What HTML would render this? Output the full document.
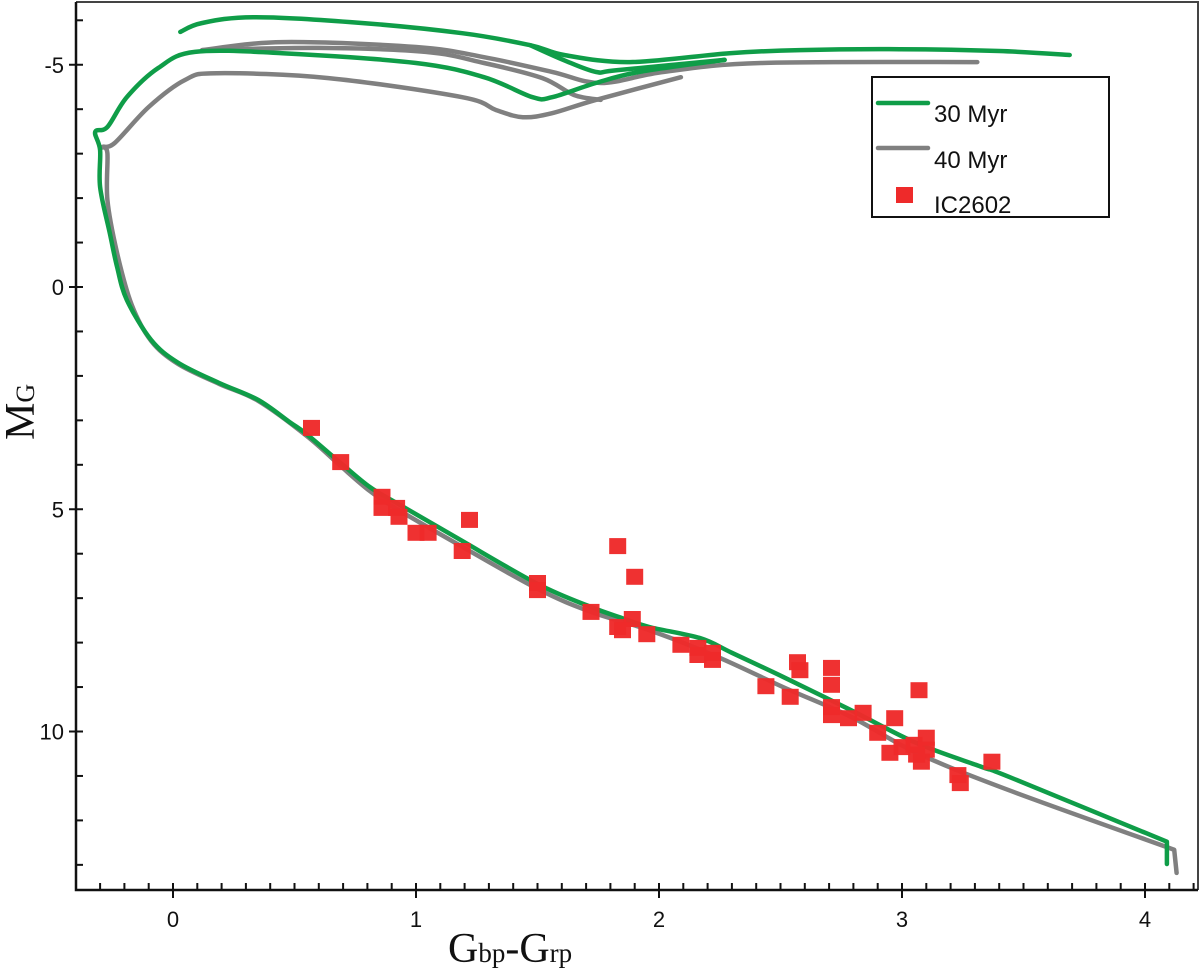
<!DOCTYPE html>
<html><head><meta charset="utf-8"><style>
body{margin:0;background:#fff;}
svg{display:block;}
</style></head><body>
<svg id="chart" width="1200" height="973" viewBox="0 0 1200 973">
<rect x="0" y="0" width="1200" height="973" fill="#fff"/>
<g id="plot"></g>
<g id="axes"></g>
<g>
<rect x="872" y="77" width="237" height="140" fill="#fff" stroke="#111" stroke-width="2"/>
<line x1="878" y1="103" x2="928" y2="103" stroke="#0f9d48" stroke-width="4.5" stroke-linecap="round"/>
<text x="934" y="122" font-family="Liberation Sans, sans-serif" font-size="24" fill="#111">30 Myr</text>
<line x1="878" y1="148" x2="928" y2="148" stroke="#808080" stroke-width="4.5" stroke-linecap="round"/>
<text x="934" y="168" font-family="Liberation Sans, sans-serif" font-size="24" fill="#111">40 Myr</text>
<rect x="896" y="187" width="17" height="16" fill="#ee2a2a"/>
<text x="934" y="213" font-family="Liberation Sans, sans-serif" font-size="24" fill="#111">IC2602</text>
</g>
<text transform="translate(34,440) rotate(-90)" font-family="Liberation Serif, serif" font-size="42" fill="#111">M<tspan font-size="26">G</tspan></text>
<text x="448" y="962" font-family="Liberation Serif, serif" font-size="42" fill="#111">G<tspan font-size="27">bp</tspan>-G<tspan font-size="27">rp</tspan></text>
</svg>
<script>
// Data (colour Gbp-Grp, absolute magnitude MG)
const xTicks = [0, 1, 2, 3, 4];
const yTicks = [-5, 0, 5, 10];
const starColor = [0.57,0.69,0.86,0.86,0.92,0.93,1.00,1.05,1.22,1.19,1.83,1.90,1.50,1.50,1.72,1.83,1.89,1.95,1.85,2.09,2.16,2.16,2.22,2.22,2.44,2.54,2.57,2.58,2.71,2.71,2.71,2.71,2.78,2.84,2.90,2.97,3.07,2.95,3.00,3.05,3.10,3.10,3.08,3.06,3.23,3.24,3.37];
const starMag = [3.17,3.94,4.72,4.97,4.97,5.17,5.53,5.53,5.24,5.94,5.83,6.52,6.66,6.82,7.31,7.65,7.47,7.81,7.72,8.05,8.12,8.28,8.39,8.23,8.98,9.22,8.44,8.62,8.57,8.95,9.45,9.63,9.70,9.58,10.03,9.70,9.07,10.48,10.35,10.30,10.14,10.41,10.68,10.52,10.98,11.16,10.68];
const green30MainX = [4.09,4.09,3.44,3.33,3.06,2.79,2.51,2.30,2.17,1.96,1.85,1.72,1.50,1.17,0.92,0.81,0.69,0.55,0.48,0.35,0.19,0.02,-0.09,-0.19,-0.23,-0.26,-0.30,-0.30,-0.32,-0.27,-0.19,-0.06,0.09,0.45,1.00,1.28,1.48,1.56,1.74,1.92,2.27];
const green30MainY = [12.98,12.48,11.02,10.80,10.26,9.52,8.77,8.23,7.90,7.65,7.45,7.20,6.68,5.65,4.86,4.50,3.96,3.31,3.04,2.54,2.16,1.70,1.19,0.29,-0.45,-1.21,-2.25,-3.08,-3.49,-3.60,-4.27,-4.93,-5.29,-5.26,-5.04,-4.72,-4.27,-4.27,-4.59,-4.84,-5.11];
const green30UpperX = [0.03,0.12,0.33,0.73,1.19,1.47,1.61,1.88,2.29,2.58,2.99,3.40,3.69];
const green30UpperY = [-5.74,-5.94,-6.07,-5.96,-5.71,-5.44,-5.22,-5.06,-5.26,-5.33,-5.35,-5.31,-5.22];
const green30BranchX = [1.47,1.61,1.74,1.83,2.27];
const green30BranchY = [-5.44,-5.10,-4.84,-4.88,-5.11];
const gray40MainX = [4.13,4.12,3.44,3.06,2.79,2.51,2.24,1.96,1.72,1.50,1.17,0.92,0.81,0.69,0.55,0.35,0.19,0.02,-0.09,-0.17,-0.23,-0.27,-0.27,-0.29,-0.24,-0.10,0.05,0.18,0.64,1.19,1.33,1.44,1.56,1.74,2.09];
const gray40MainY = [13.18,12.66,11.32,10.48,9.67,9.00,8.32,7.72,7.31,6.79,5.78,4.99,4.59,4.03,3.35,2.56,2.18,1.73,1.21,0.40,-0.76,-1.96,-3.01,-3.15,-3.24,-4.05,-4.66,-4.81,-4.70,-4.27,-3.98,-3.82,-3.91,-4.21,-4.72];
const gray40UpperX = [0.12,0.45,1.00,1.28,1.56,1.76,2.02,2.42,3.31];
const gray40UpperY = [-5.33,-5.51,-5.40,-5.17,-4.84,-4.59,-4.84,-5.04,-5.06];
const gray40MidX = [0.12,0.60,1.04,1.28,1.52,1.65,1.76];
const gray40MidY = [-5.33,-5.38,-5.29,-5.04,-4.70,-4.32,-4.21];

const NS = 'http://www.w3.org/2000/svg';
const X0 = 173, XU = 243, Y0 = 287, YU = 44.45;
const AXL = 76, AXB = 890, TOP = 2, RIGHT = 1198;
function sx(v){ return X0 + v * XU; }
function sy(m){ return Y0 + m * YU; }
function mk(tag, attrs, parent){ const e = document.createElementNS(NS, tag); for (const k in attrs) e.setAttribute(k, attrs[k]); parent.appendChild(e); return e; }
function smoothPath(xs, ys, cornerStart){
  let p = xs.map((x,i)=>[sx(x), sy(ys[i])]);
  let d = 'M' + p[0][0].toFixed(1) + ' ' + p[0][1].toFixed(1);
  if (cornerStart) {
    d += ' L' + p[1][0].toFixed(1) + ' ' + p[1][1].toFixed(1);
    p = p.slice(1);
  }
  for (let i=0;i<p.length-1;i++){
    const p0=p[Math.max(0,i-1)], p1=p[i], p2=p[i+1], p3=p[Math.min(p.length-1,i+2)];
    const c1=[p1[0]+(p2[0]-p0[0])/6, p1[1]+(p2[1]-p0[1])/6];
    const c2=[p2[0]-(p3[0]-p1[0])/6, p2[1]-(p3[1]-p1[1])/6];
    d += ' C'+c1[0].toFixed(1)+' '+c1[1].toFixed(1)+' '+c2[0].toFixed(1)+' '+c2[1].toFixed(1)+' '+p2[0].toFixed(1)+' '+p2[1].toFixed(1);
  }
  return d;
}
const plot = document.getElementById('plot');
const axes = document.getElementById('axes');

const curves = [
  [gray40MainX, gray40MainY, '#808080', 'isochrone-40myr-main', true],
  [gray40UpperX, gray40UpperY, '#808080', 'isochrone-40myr-upper', false],
  [gray40MidX, gray40MidY, '#808080', 'isochrone-40myr-middle', false],
  [green30MainX, green30MainY, '#0f9d48', 'isochrone-30myr-main', true],
  [green30UpperX, green30UpperY, '#0f9d48', 'isochrone-30myr-upper', false],
  [green30BranchX, green30BranchY, '#0f9d48', 'isochrone-30myr-branch', false]
];
curves.forEach(c => {
  const el = mk('path', {d: smoothPath(c[0], c[1], c[4]), fill:'none', stroke:c[2], 'stroke-width':4.5, 'stroke-linecap':'round', 'stroke-linejoin':'round'}, plot);
  
  
});
starColor.forEach((c,i) => {
  const el = mk('rect', {x:(sx(c)-8.5).toFixed(1), y:(sy(starMag[i])-8).toFixed(1), width:17, height:16, fill:'#ee2a2a', 'fill-opacity':0.97}, plot);
  
  
});

const fr = mk('path', {d:`M${AXL} ${TOP} H${RIGHT} V${AXB}`, fill:'none', stroke:'#444', 'stroke-width':2}, axes);


const ax = mk('path', {d:`M${AXL} ${TOP} V${AXB} H${RIGHT}`, fill:'none', stroke:'#111', 'stroke-width':2.5}, axes);



for (let k = -4; k <= 42; k++) {
  const v = k / 10, px = sx(v);
  if (px <= AXL + 1 || px >= RIGHT) continue;
  const major = k % 10 === 0;
  const t = mk('line', {x1:px, x2:px, y1:AXB - 7, y2:major ? AXB + 8 : AXB, stroke:'#111', 'stroke-width':2}, axes);
  
  
}
xTicks.forEach(v => {
  const t = mk('text', {x:sx(v), y:927, 'text-anchor':'middle', 'font-family':'Liberation Sans, sans-serif', 'font-size':22, fill:'#111'}, axes);
  t.textContent = v;
  
  
});
for (let m = -6; m <= 13; m++) {
  const py = sy(m);
  const major = m % 5 === 0;
  const t = mk('line', {x1:major ? AXL - 7 : AXL, x2:AXL + 7, y1:py, y2:py, stroke:'#111', 'stroke-width':2}, axes);
  
  
}
yTicks.forEach(m => {
  const t = mk('text', {x:64, y:sy(m) + 8, 'text-anchor':'end', 'font-family':'Liberation Sans, sans-serif', 'font-size':22, fill:'#111'}, axes);
  t.textContent = m;
  
  
});
</script>
</body></html>
